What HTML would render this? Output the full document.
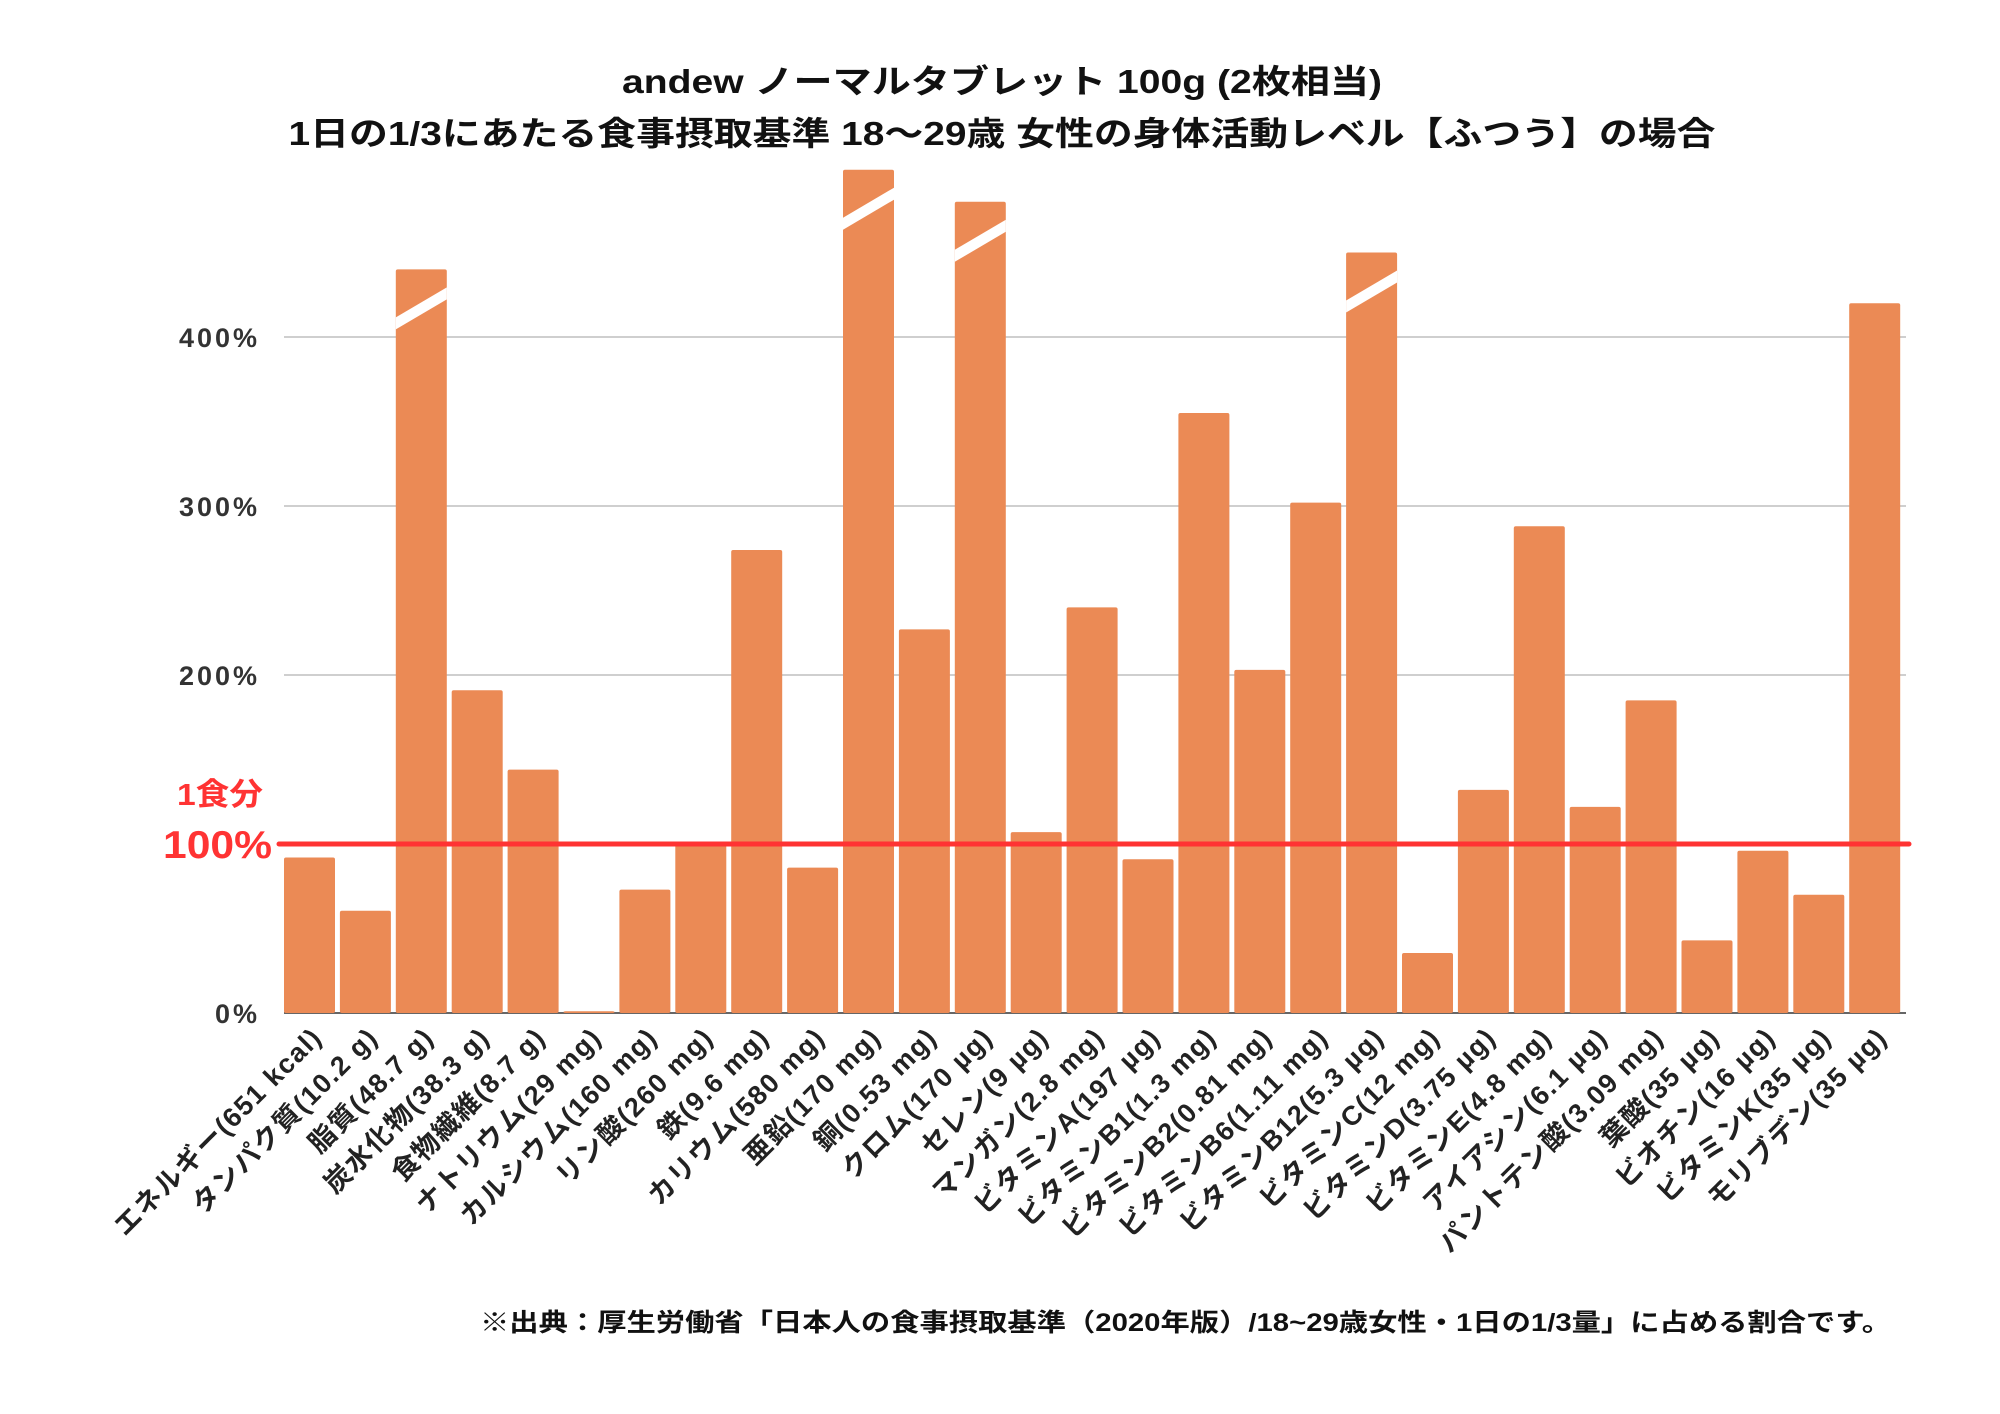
<!DOCTYPE html>
<html><head><meta charset="utf-8"><style>
html,body{margin:0;padding:0;background:#fff;}
svg{display:block;}
text{font-family:"Liberation Sans","Noto Sans CJK JP",sans-serif;}
</style></head><body>
<svg id="chart" width="2000" height="1414" viewBox="0 0 2000 1414" xmlns="http://www.w3.org/2000/svg">
<g id="title">
<text x="1002" y="93" text-anchor="middle" font-size="33" font-weight="bold" fill="#111" textLength="760" lengthAdjust="spacingAndGlyphs">andew ノーマルタブレット 100g (2枚相当)</text>
<text x="1002" y="145" text-anchor="middle" font-size="33" font-weight="bold" fill="#111" textLength="1427" lengthAdjust="spacingAndGlyphs">1日の1/3にあたる食事摂取基準 18〜29歳 女性の身体活動レベル【ふつう】の場合</text>
</g>
<g id="grid"></g>
<g id="bars"></g>
<g id="xlabels"></g>
<g id="overlay"></g>
<text x="1891" y="1331" text-anchor="end" font-size="25" font-weight="bold" fill="#111" textLength="1411" lengthAdjust="spacingAndGlyphs">※出典：厚生労働省「日本人の食事摂取基準（2020年版）/18~29歳女性・1日の1/3量」に占める割合です。</text>
</svg>
<script>
const categories = ["エネルギー(651 kcal)","タンパク質(10.2 g)","脂質(48.7 g)","炭水化物(38.3 g)","食物繊維(8.7 g)","ナトリウム(29 mg)","カルシウム(160 mg)","リン酸(260 mg)","鉄(9.6 mg)","カリウム(580 mg)","亜鉛(170 mg)","銅(0.53 mg)","クロム(170 µg)","セレン(9 µg)","マンガン(2.8 mg)","ビタミンA(197 µg)","ビタミンB1(1.3 mg)","ビタミンB2(0.81 mg)","ビタミンB6(1.11 mg)","ビタミンB12(5.3 µg)","ビタミンC(12 mg)","ビタミンD(3.75 µg)","ビタミンE(4.8 mg)","アイアシン(6.1 µg)","パントテン酸(3.09 mg)","葉酸(35 µg)","ビオチン(16 µg)","ビタミンK(35 µg)","モリブデン(35 µg)"];
const values = [92,60.5,440,191,144,1,73,100,274,86,499,227,480,107,240,91,355,203,302,450,35.5,132,288,122,185,43,96,70,420];
const broken = [false,false,true,false,false,false,false,false,false,false,true,false,true,false,false,false,false,false,false,true,false,false,false,false,false,false,false,false,false];
const yTicks = [0,200,300,400];
const yTickLabels = ["0%","200%","300%","400%"];
const refValue = 100;

const NS="http://www.w3.org/2000/svg";
const X0=284, PITCH=55.9, BW=51, Y0=1013, PER100=169;
const xScale=i=>X0+i*PITCH;
const yScale=v=>Y0-v*PER100/100;
function mk(tag,attrs,parent){const e=document.createElementNS(NS,tag);for(const k in attrs)e.setAttribute(k,attrs[k]);parent.appendChild(e);return e;}
const grid=document.getElementById('grid'),bars=document.getElementById('bars'),xl=document.getElementById('xlabels'),ov=document.getElementById('overlay');

yTicks.forEach((t,i)=>{
  if(t>0){const l=mk('line',{x1:X0,x2:1906,y1:yScale(t),y2:yScale(t),stroke:'#cfcfcf','stroke-width':2},grid);
  
  }
  const tx=mk('text',{x:260,y:yScale(t)+10,'text-anchor':'end','font-size':27,'font-weight':'bold',fill:'#333','letter-spacing':3},grid);
  tx.textContent=yTickLabels[i];
  
  
});
const ax=mk('line',{x1:X0,x2:1906,y1:Y0,y2:Y0,stroke:'#666','stroke-width':2},grid);



values.forEach((v,i)=>{
  const x=xScale(i),y=yScale(v);
  const r=mk('rect',{x:x,y:y,width:BW,height:Y0-y,fill:'#EB8A55',rx:2},bars);
  
  
  if(broken[i]){
    const p=mk('polygon',{points:`${x},${y+48} ${x+BW},${y+18} ${x+BW},${y+30} ${x},${y+60}`,fill:'#fff'},bars);
    
    
  }
  const cx=x+BW/2+14, cy=Y0+26;
  const t=mk('text',{x:cx,y:cy,'text-anchor':'end','font-size':27,'font-weight':'bold',fill:'#222','letter-spacing':1.5,transform:`rotate(-45 ${cx} ${cy})`},xl);
  t.textContent=categories[i];
  
  
});

const rl=mk('line',{x1:279,x2:1909,y1:yScale(refValue),y2:yScale(refValue),stroke:'#FF3333','stroke-width':5,'stroke-linecap':'round'},ov);


const r1=mk('text',{x:272,y:yScale(refValue)+14,'text-anchor':'end','font-size':39,'font-weight':'bold',fill:'#FF3333',textLength:109,lengthAdjust:'spacingAndGlyphs'},ov);
r1.textContent='100%';


const r2=mk('text',{x:177,y:yScale(refValue)-39,'font-size':31,'font-weight':'bold',fill:'#FF3333',textLength:86,lengthAdjust:'spacingAndGlyphs'},ov);
r2.textContent='1食分';


</script>
</body></html>
